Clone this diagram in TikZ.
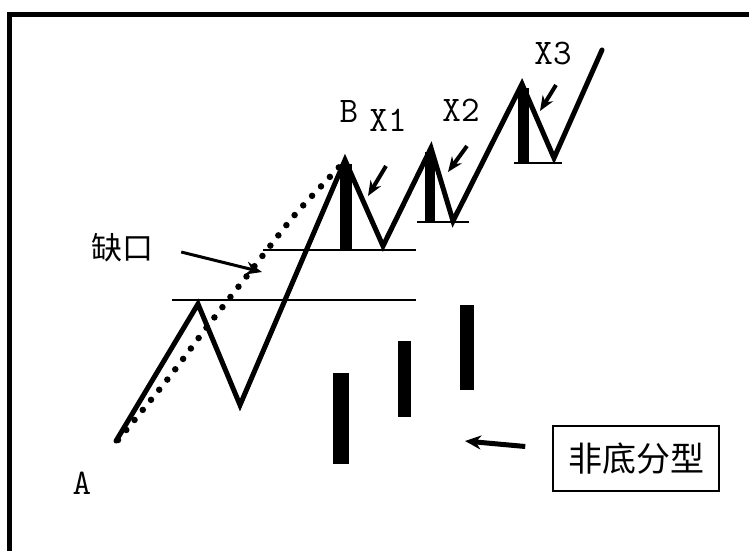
\documentclass[tikz,border=0pt]{standalone}
\usepackage{fontspec}
\newfontfamily\cjkfont{Noto Sans CJK SC}
\usetikzlibrary{arrows.meta}

\begin{document}
\begin{tikzpicture}[x=1pt, y=-1pt,
  wave/.style={line width=5pt, line join=miter, line cap=round},
  level/.style={line width=1.4pt},
  candle/.style={line width=#1, line cap=butt},
  candle/.default=12pt,
  lbl/.style={font=\ttfamily\fontsize{36}{36}\selectfont, inner sep=0pt},
  cjk/.style={font=\cjkfont\fontsize{#1}{#1}\selectfont, inner sep=0pt},
  cjk/.default=31,
  pointer/.style={line width=4pt, -{Stealth[length=15pt, width=12pt]}}]
\useasboundingbox (0,0) rectangle (749,551);
\clip (0,0) rectangle (749,551);
\draw[line width=5pt] (9.5,14.5) rectangle (780,580);
% wave points
\coordinate (a) at (116,441);
\coordinate (p1) at (198,304);
\coordinate (t1) at (240,405);
\coordinate (b) at (345,160);
\coordinate (t2) at (383,246);
\coordinate (p2) at (431,148);
\coordinate (t3) at (453,221);
\coordinate (p3) at (522,84);
\coordinate (t4) at (554,158);
\coordinate (e) at (602,50);
\draw[wave] (a) -- (p1) -- (t1) -- (b) -- (t2) -- (p2) -- (t3) -- (p3) -- (t4) -- (e);
% fractal candles and levels
\draw[candle] (346,164) -- (346,250);
\draw[candle=10pt] (430,152) -- (430,222);
\draw[candle=11pt] (523,88) -- (523,163);
\draw[level] (263,250) -- (416,250);
\draw[level] (172,300) -- (416,300);
\draw[level] (417,222) -- (469,222);
\draw[level] (514,163) -- (562,163);
% gap line
\draw[line width=6.5pt, line cap=round, dash pattern=on 0pt off 13pt]
  plot[smooth] coordinates {(118,440) (167,380) (207,327) (250,272) (293,217) (327,180) (342,164)};
% labels
\node[lbl] (la) at (82,483) {A};
\node[lbl] (lb) at (349,112) {B};
\node[lbl] (lx1) at (388,120) {X1};
\node[lbl] (lx2) at (461,110) {X2};
\node[lbl] (lx3) at (553,54) {X3};
\node[cjk] (gap) at (122,248) {缺口};
\coordinate (gaptip) at (262,272);
\draw[line width=3pt, -{Stealth[length=16pt, width=13pt]}] (gap.east) ++(28,4) -- (gaptip);
\coordinate (x1a) at (386,166); \coordinate (x1b) at (368,196);
\coordinate (x2a) at (467,146); \coordinate (x2b) at (448,172);
\coordinate (x3a) at (556,85);  \coordinate (x3b) at (540,111);
\foreach \f/\g in {x1a/x1b, x2a/x2b, x3a/x3b} \draw[pointer] (\f) -- (\g);
% non-bottom fractal
\fill (333,373) rectangle (349,464);
\fill (398,341) rectangle (411,417);
\fill (460,305) rectangle (474,390);
\node[draw, line width=1.5pt, cjk=34, minimum width=166pt, minimum height=65pt] (nbf) at (636,458.5) {非底分型};
\coordinate (nbftip) at (465,441);
\draw[line width=5pt, -{Stealth[length=16pt, width=14pt]}] (nbf.west) ++(-27,-12) -- (nbftip);
\end{tikzpicture}
\end{document}
